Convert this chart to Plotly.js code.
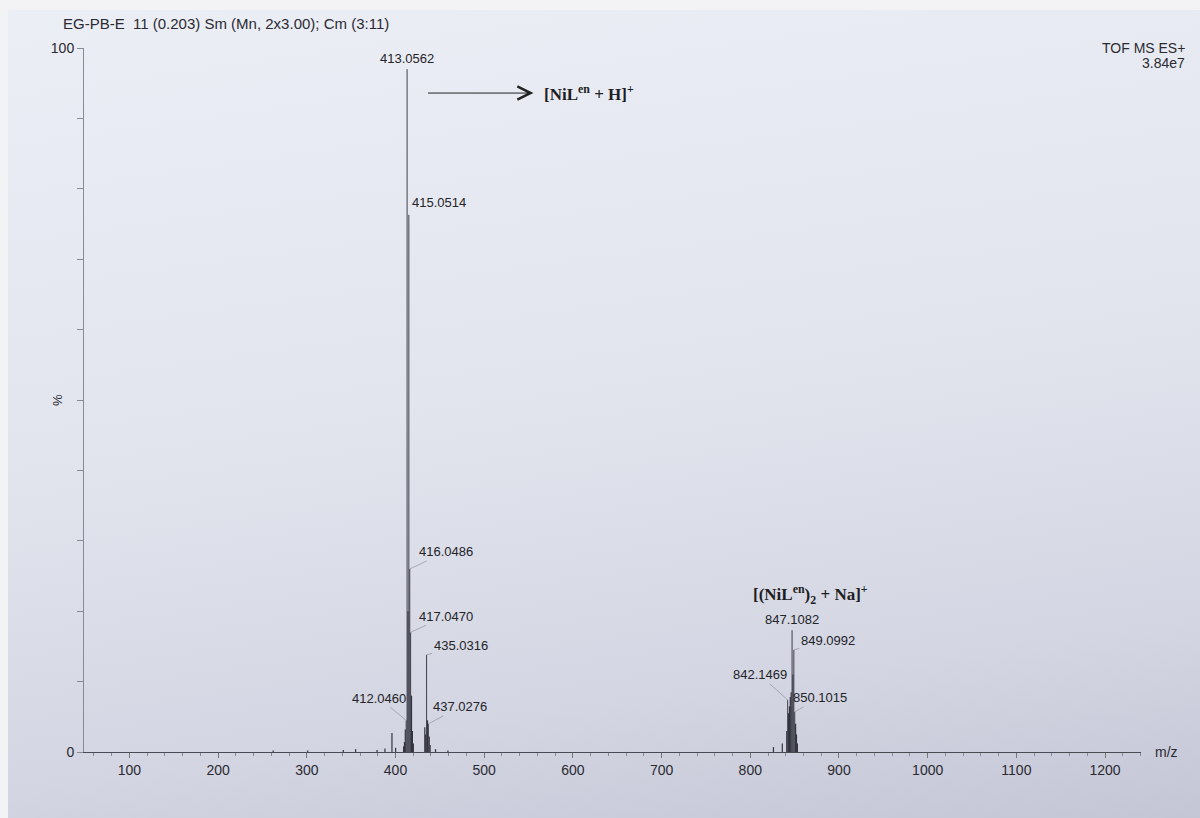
<!DOCTYPE html>
<html>
<head>
<meta charset="utf-8">
<script src="https://cdn.plot.ly/plotly-3.0.1.min.js"></script>
<style>
  html, body { margin: 0; padding: 0; background: #f3f3f6; }
  #sheet {
    position: absolute; left: 8px; top: 10px; width: 1192px; height: 808px;
    background: linear-gradient(172deg, #eceef6 0%, #e3e5ee 45%, #d3d5e2 80%, #c4c6d6 100%);
  }
  #chart { position: absolute; left: 0; top: 0; width: 1200px; height: 818px; }
</style>
</head>
<body>
<div id="sheet"></div>
<div id="chart"></div>
<script>
// Labelled peaks (m/z) and their relative intensities (%)
const peakMz  = [412.0460, 413.0562, 415.0514, 416.0486, 417.0470, 435.0316, 437.0276, 842.1469, 847.1082, 849.0992, 850.1015];
const peakInt = [4.5, 97, 76.3, 26, 17, 13.8, 4, 7.4, 17.3, 14.5, 5.7];

// Unlabelled minor peaks and isotope shoulders
const minorMz  = [262.1, 301.0, 341.1, 355.0, 379.2, 388.1, 396.0, 400.1, 409.1, 410.1, 411.05, 414.05, 418.05, 419.05, 420.1, 433.03, 434.03, 436.03, 438.03, 439.0, 445.1, 459.1, 826.1, 836.1, 841.1, 843.1, 844.1, 845.1, 846.1, 848.1, 851.1, 852.1, 853.1];
const minorInt = [0.2, 0.2, 0.3, 0.4, 0.3, 0.5, 2.7, 0.6, 0.8, 1.4, 3.2, 20, 8, 3, 1.2, 3.5, 2.5, 4.5, 2.2, 1.0, 0.4, 0.2, 0.7, 1.2, 3.0, 5.5, 6.5, 7.8, 8.5, 11, 4.0, 2.5, 1.2];

// Axis ticks
const xTickStep = 100;
const yTickVals = [0, 100];
const yTickText = ['0', '100'];

// Label placement for each labelled peak: [dx, dy] in px from the peak top, or null for a label sitting right on top
const labelPlace = [[-27, -22], null, 'right', [36, -17], [35, -16], [34, -9], [32, -17], [-28, -25], null, [34, -9], [25, -14]];

function sticks(mz, inten) {
  const xs = [], ys = [];
  mz.forEach((m, i) => { xs.push(m, m, null); ys.push(0, inten[i], null); });
  return { xs, ys };
}

const major = sticks(peakMz, peakInt);
const minor = sticks(minorMz, minorInt);

const traces = [
  { x: minor.xs, y: minor.ys, type: 'scatter', mode: 'lines', line: { color: '#34343e', width: 1.2 }, hoverinfo: 'skip', showlegend: false },
  { x: major.xs, y: major.ys, type: 'scatter', mode: 'lines', line: { color: '#3e3e4a', width: 1 }, hoverinfo: 'skip', showlegend: false }
];

const font = 'Liberation Sans, Arial, sans-serif';
const serif = 'Liberation Serif, Times New Roman, serif';

const annotations = [];
peakMz.forEach((m, i) => {
  const p = labelPlace[i];
  const base = { x: m, y: peakInt[i], xref: 'x', yref: 'y', text: m.toFixed(4),
                 font: { family: font, size: 13, color: '#232328' } };
  if (p === null) {
    annotations.push(Object.assign(base, { showarrow: false, xanchor: 'center', yanchor: 'bottom', yshift: 1 }));
  } else if (p === 'right') {
    annotations.push(Object.assign(base, { showarrow: false, xanchor: 'left', yanchor: 'bottom', xshift: 1, yshift: 3 }));
  } else {
    annotations.push(Object.assign(base, { showarrow: true, arrowhead: 0, arrowwidth: 0.8, arrowcolor: '#9a9aa6',
                                           ax: p[0], ay: p[1], standoff: 0 }));
  }
});

// Header texts
annotations.push(
  { xref: 'paper', yref: 'paper', x: -0.0218, y: 1.0355, xanchor: 'left', yanchor: 'middle', showarrow: false,
    text: 'EG-PB-E  11 (0.203) Sm (Mn, 2x3.00); Cm (3:11)', font: { family: font, size: 15, color: '#2a2a30' } },
  { xref: 'paper', yref: 'paper', x: 1.0435, y: 1.0, xanchor: 'right', yanchor: 'middle', showarrow: false,
    text: 'TOF MS ES+', font: { family: font, size: 14, color: '#2a2a30' } },
  { xref: 'paper', yref: 'paper', x: 1.0435, y: 0.979, xanchor: 'right', yanchor: 'middle', showarrow: false,
    text: '3.84e7', font: { family: font, size: 14, color: '#2a2a30' } },
  { xref: 'paper', yref: 'paper', x: 1.011, y: 0.0, xanchor: 'left', yanchor: 'middle', showarrow: false,
    text: 'm/z', font: { family: font, size: 14, color: '#2a2a30' } },
  { xref: 'paper', yref: 'paper', x: -0.0255, y: 0.5, xanchor: 'center', yanchor: 'middle', showarrow: false,
    textangle: -90, text: '%', font: { family: font, size: 13, color: '#2a2a30' } }
);

// Ion assignments: the first one has an arrow running from the base peak to its text
annotations.push(
  { xref: 'x', yref: 'y', x: 436.6, y: 93.6, axref: 'x', ayref: 'y', ax: 618.1, ay: 93.6,
    text: '<b>[NiL<sup>en</sup> + H]<sup>+</sup></b>', font: { family: serif, size: 17, color: '#1e1e22' },
    showarrow: true, arrowside: 'start', startarrowhead: 5, startarrowsize: 2.6, arrowwidth: 1,
    arrowcolor: '#222', standoff: 0, startstandoff: 9 },
  { xref: 'x', yref: 'y', x: 868, y: 22.4, xanchor: 'center', yanchor: 'middle', showarrow: false,
    text: '<b>[(NiL<sup>en</sup>)<sub>2</sub> + Na]<sup>+</sup></b>', font: { family: serif, size: 17, color: '#1e1e22' } }
);

const layout = {
  width: 1200, height: 818,
  margin: { l: 84, r: 59, t: 48, b: 66 },
  paper_bgcolor: 'rgba(0,0,0,0)',
  plot_bgcolor: 'rgba(0,0,0,0)',
  font: { family: font, color: '#2a2a30' },
  showlegend: false,
  xaxis: {
    range: [48.8, 1240.5], dtick: xTickStep, tick0: 0,
    showgrid: false, zeroline: false,
    showline: true, linecolor: '#4a4a55', linewidth: 1,
    ticks: 'outside', ticklen: 5, tickcolor: '#777',
    minor: { dtick: 20, ticks: 'outside', ticklen: 3, tickcolor: '#8a8a95' },
    tickfont: { family: font, size: 14, color: '#2a2a30' }
  },
  yaxis: {
    range: [0, 100], tickvals: yTickVals, ticktext: yTickText,
    showgrid: false, zeroline: false,
    showline: true, linecolor: '#8a8a96', linewidth: 1,
    ticks: 'outside', ticklen: 6, tickcolor: '#8a8a96',
    minor: { tickvals: [10, 20, 30, 40, 50, 60, 70, 80, 90], ticks: 'outside', ticklen: 6, tickcolor: '#8a8a96', showgrid: false },
    tickfont: { family: font, size: 14, color: '#2a2a30' }
  },
  annotations: annotations
};

Plotly.newPlot('chart', traces, layout, { staticPlot: true, displayModeBar: false });
</script>
</body>
</html>
